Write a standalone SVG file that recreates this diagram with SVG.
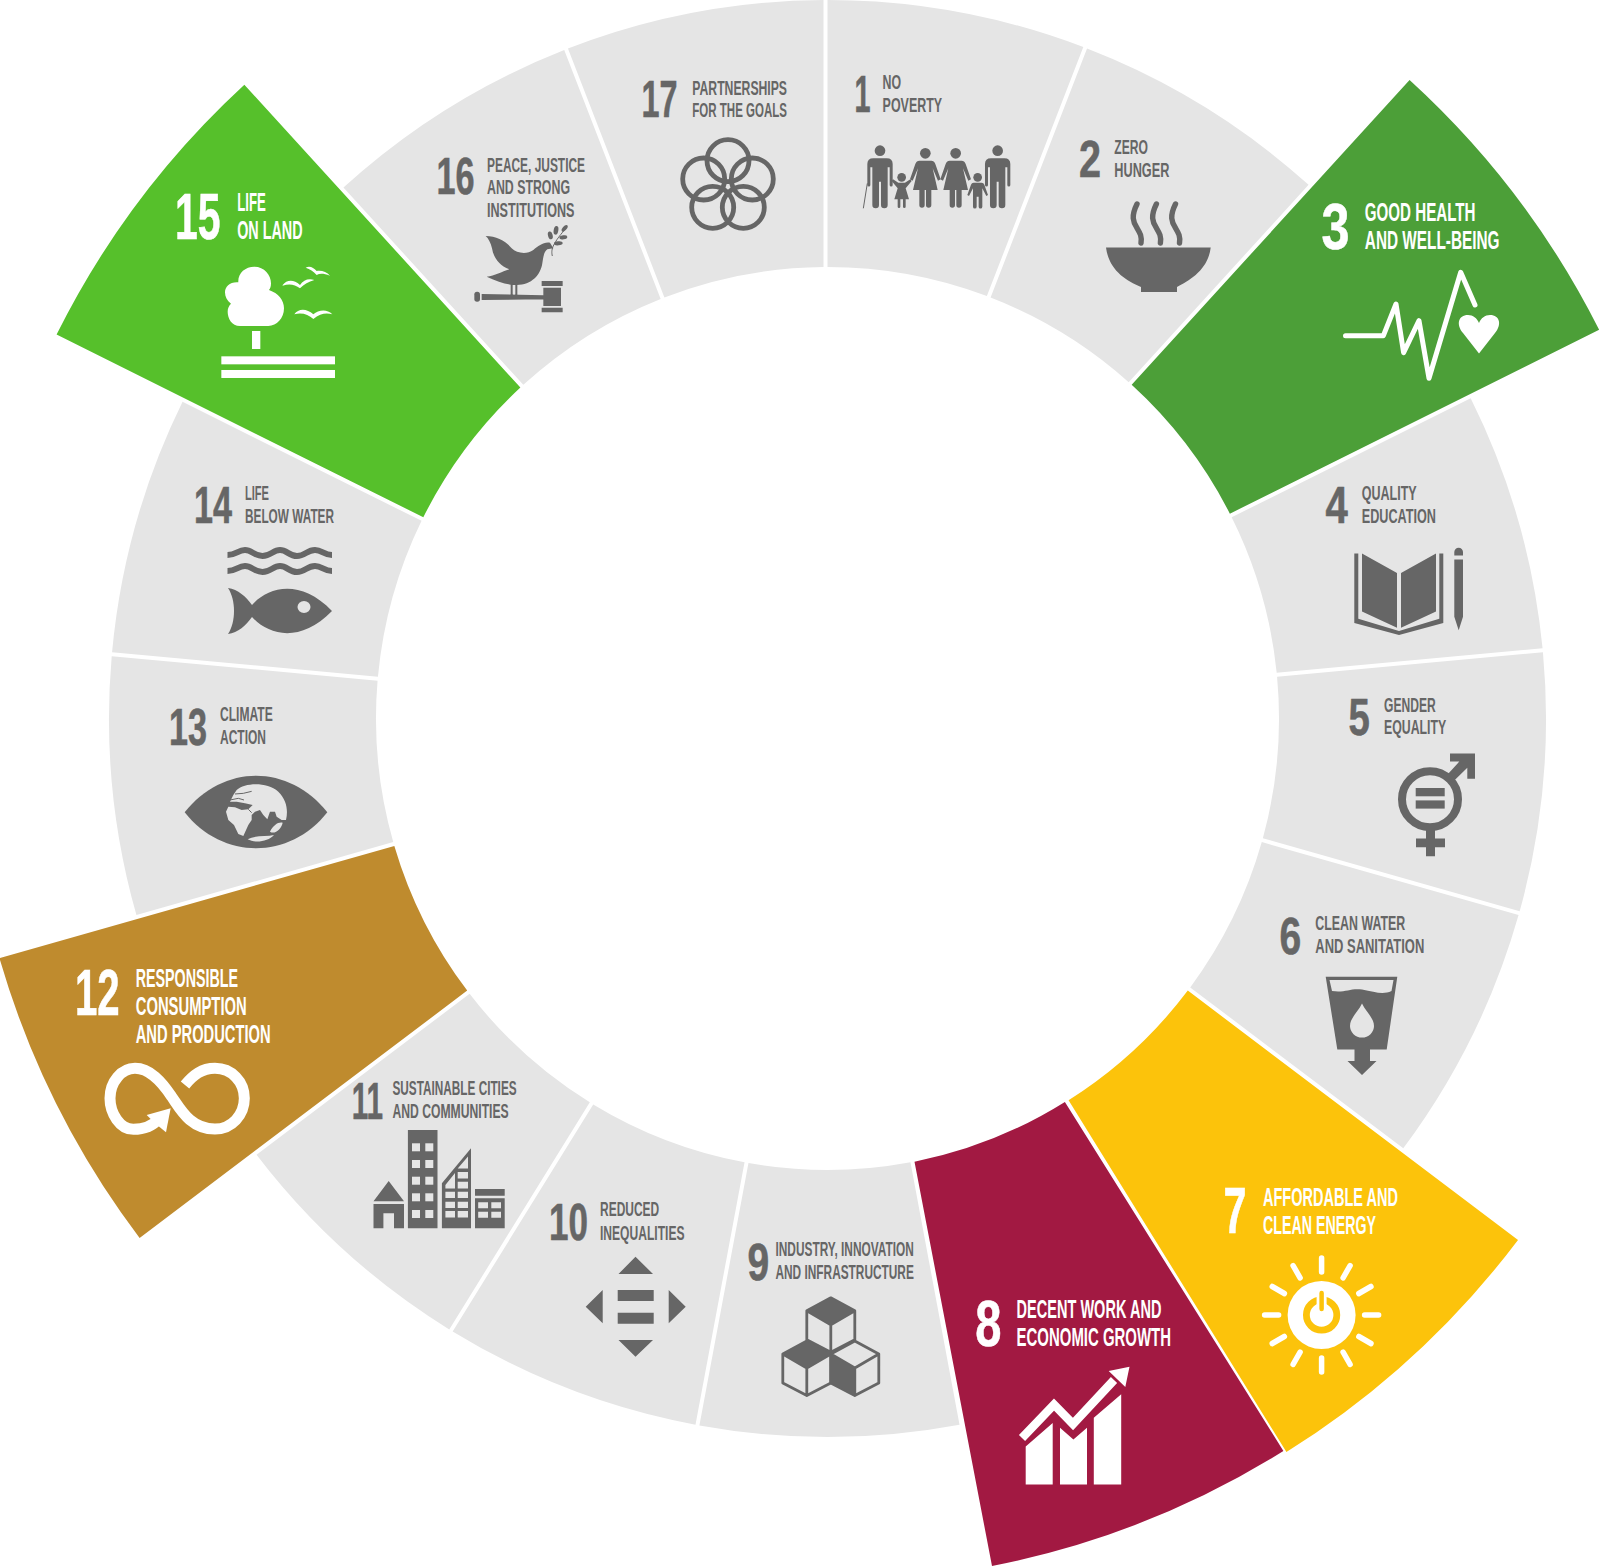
<svg xmlns="http://www.w3.org/2000/svg" width="1600" height="1567" viewBox="0 0 1600 1567">
<style>
text{font-family:"Liberation Sans Narrow","Liberation Sans",Arial,sans-serif;}
.seg{fill:#e5e5e5}
.n,.nb{font-weight:700;fill:#666;stroke:#666;stroke-width:.6px}
.n{font-size:52px}
.nb{font-size:64px;fill:#fff;stroke:#fff}
.l,.lb{font-weight:700;fill:#666}
.l{font-size:20.3px;transform:translateY(-.7px)}
.lb{font-size:25px;fill:#fff}
.i{fill:#666}
.w{fill:#fff}
.bg{fill:#e5e5e5}
</style>
<defs>
<path id="sec" d="M0 -718.5A718.5 718.5 0 0 1 255.82 -671.42L159.37 -422.45A451.5 451.5 0 0 0 0 -451.5Z"/>
<g id="man"><circle cy="32" r="16"/><path d="M-38 72Q-38 55 -20 55H20Q38 55 38 72V135A4.5 4.5 0 0 1 29 135V82H23V195A10 10 0 0 1 3 195V125H-3V195A10 10 0 0 1 -23 195V82H-29V135A4.5 4.5 0 0 1 -38 135Z"/></g>
<g id="woman"><circle cy="40" r="16"/><path d="M-18 62H18Q26 62 30 72L46 118L38 122L22 85L37 150H18V195A8 8 0 0 1 2 195V150H-2V195A8 8 0 0 1 -18 195V150H-37L-22 85L-38 122L-46 118L-30 72Q-26 62 -18 62Z"/></g>
<path id="wave" d="M227.5 555C236 555 238 550 245 550C252 550 254 556 262.5 556C271 556 273 550 280 550C287 550 289 556 297 556C305 556 307 550 315 550C322 550 324 555 332 555" fill="none" stroke="#666" stroke-width="6"/>
<g id="cube" fill="none" stroke="#666" stroke-width="2.8" stroke-linejoin="round"><path d="M0 0L24 13V42L0 54.5L-24 42V13ZM-24 13L0 27L24 13M0 27V54.5"/></g>
<line id="ray" y1="-57" y2="-43" stroke="#fff" stroke-width="5.5" stroke-linecap="round"/>
<path id="steam" d="M1137 204C1131 216 1133 222 1137 228C1140 233 1142 236 1141 243" fill="none" stroke="#666" stroke-width="5.4" stroke-linecap="round"/>
<circle id="ring" r="21" fill="none" stroke="#666" stroke-width="4.8"/>
<rect id="win" width="8" height="8" fill="#e5e5e5"/>
</defs>

<g id="goal-1">
<use href="#sec" class="seg" transform="translate(827.5 718.5)"/>
<text class="n" x="854.5" y="112" textLength="16" lengthAdjust="spacingAndGlyphs">1</text>
<text class="l" x="882.6" y="89.3" textLength="18.5" lengthAdjust="spacingAndGlyphs">NO</text>
<text class="l" x="882.6" y="112.7" textLength="59.5" lengthAdjust="spacingAndGlyphs">POVERTY</text>
<g class="i" transform="translate(860 140) scale(.3333)">
<use href="#man" x="60"/><path d="M22 130L10 205" stroke="#666" stroke-width="3" fill="none"/>
<use href="#man" x="413"/><use href="#woman" x="196"/><use href="#woman" x="287"/>
<g transform="translate(125 0)"><circle cy="112" r="13"/><path d="M-10 128H10L26 118L30 123L12 145L22 178H12V200A4 4 0 0 1 4 200V178H-4V200A4 4 0 0 1 -12 200V178H-22L-12 145L-30 123L-26 118Z"/></g>
<g transform="translate(353 0)"><circle cy="112" r="13"/><path d="M-12 128H12Q18 128 20 134L31 165L26 168L14 145V200A5 5 0 0 1 3 200V170H-3V200A5 5 0 0 1 -14 200V145L-26 168L-31 165L-20 134Q-18 128 -12 128Z"/></g>
</g>
</g>

<g id="goal-2">
<use href="#sec" class="seg" transform="translate(827.5 718.5) rotate(21.176)"/>
<text class="n" x="1079" y="177.3" textLength="22" lengthAdjust="spacingAndGlyphs">2</text>
<text class="l" x="1114.3" y="154.7" textLength="33.7" lengthAdjust="spacingAndGlyphs">ZERO</text>
<text class="l" x="1114.3" y="178" textLength="55" lengthAdjust="spacingAndGlyphs">HUNGER</text>
<use href="#steam"/><use href="#steam" x="19.4"/><use href="#steam" x="38.5"/>
<path class="i" d="M1106 247.5H1210.7C1208 270 1190 280 1177 287V292H1141V287C1125 280 1109 270 1106 247.5Z"/>
</g>

<g id="goal-3">
<path fill="#4c9f38" transform="translate(827.5 718.5) rotate(42.353)" d="M0 -864A864 864 0 0 1 308.38 -807.11L159.37 -422.45A451.5 451.5 0 0 0 0 -451.5Z"/>
<text class="nb" x="1321.4" y="249.3" textLength="28" lengthAdjust="spacingAndGlyphs">3</text>
<text class="lb" x="1364.8" y="221.3" textLength="110.7" lengthAdjust="spacingAndGlyphs">GOOD HEALTH</text>
<text class="lb" x="1364.8" y="249" textLength="134.7" lengthAdjust="spacingAndGlyphs">AND WELL-BEING</text>
<path d="M1345.5 335.7H1383.4L1396 304L1403.6 352.7L1419 320.7L1429 378.3L1460.7 272.3L1475 305" fill="none" stroke="#fff" stroke-width="5" stroke-linecap="round" stroke-linejoin="round"/>
<path class="w" d="M1479 353.5L1463 333C1456 325 1458 315 1468 315C1473 315 1477 318 1479 323C1481 318 1485 315 1490 315C1500 315 1502 325 1495 333Z"/>
</g>

<g id="goal-4">
<use href="#sec" class="seg" transform="translate(827.5 718.5) rotate(63.529)"/>
<text class="n" x="1325.5" y="523" textLength="22.3" lengthAdjust="spacingAndGlyphs">4</text>
<text class="l" x="1361.7" y="501" textLength="55" lengthAdjust="spacingAndGlyphs">QUALITY</text>
<text class="l" x="1361.7" y="523.7" textLength="74.3" lengthAdjust="spacingAndGlyphs">EDUCATION</text>
<g class="i">
<path d="M1362 553.5L1397 573V627.8L1362 611.4ZM1401 573L1436 553.5V611.4L1401 627.8Z"/>
<path d="M1354.3 553.5H1358.3V618.8L1399 631L1439.3 618.8V553.5H1443.3V623L1399 635L1354.3 623Z"/>
<path d="M1454.3 555.5V552a4.35 4.35 0 0 1 8.7 0V555.5ZM1454.3 559.6H1463V616.7L1458.7 630.2L1454.3 616.7Z"/>
</g>
</g>

<g id="goal-5">
<use href="#sec" class="seg" transform="translate(827.5 718.5) rotate(84.706)"/>
<text class="n" x="1348.5" y="735" textLength="21.3" lengthAdjust="spacingAndGlyphs">5</text>
<text class="l" x="1384" y="712.7" textLength="51.7" lengthAdjust="spacingAndGlyphs">GENDER</text>
<text class="l" x="1384" y="735" textLength="62.3" lengthAdjust="spacingAndGlyphs">EQUALITY</text>
<circle cx="1430" cy="799.2" r="28" fill="none" stroke="#666" stroke-width="8"/>
<g class="i">
<rect x="1415.7" y="788" width="29" height="8.3"/><rect x="1415.7" y="800.4" width="29" height="8.2"/>
<path d="M1426 830H1435V838.4H1445V847.3H1435V856.3H1426V847.3H1416V838.4H1426Z"/>
<path d="M1450 753.5H1475V778.8H1467.3V767.8L1451.7 783L1447.3 774.7L1459.3 761.6H1450Z"/>
</g>
</g>

<g id="goal-6">
<use href="#sec" class="seg" transform="translate(827.5 718.5) rotate(105.882)"/>
<text class="n" x="1279.5" y="953.5" textLength="21.7" lengthAdjust="spacingAndGlyphs">6</text>
<text class="l" x="1315.3" y="930.6" textLength="90" lengthAdjust="spacingAndGlyphs">CLEAN WATER</text>
<text class="l" x="1315.3" y="953.5" textLength="109" lengthAdjust="spacingAndGlyphs">AND SANITATION</text>
<path class="i" d="M1325.7 976.7H1397.3L1386.7 1049.4H1370V1061H1376.5L1362 1075L1347.5 1061H1354.5V1049.4H1337.3Z"/>
<path class="bg" d="M1329.5 980H1393.5L1391.5 991C1383 995 1375 992 1362 989.5C1350 988 1345 993 1332 991Z"/>
<path class="bg" d="M1362 1003.5C1358 1012 1350 1018 1350 1026A12 11.5 0 0 0 1374 1026C1374 1018 1366 1012 1362 1003.5Z"/>
</g>

<g id="goal-7">
<path fill="#fcc30b" transform="translate(827.5 718.5) rotate(127.059)" d="M0 -865.3A865.3 865.3 0 0 1 308.85 -808.33L159.37 -422.45A451.5 451.5 0 0 0 0 -451.5Z"/>
<text class="nb" x="1223.6" y="1233.3" textLength="23" lengthAdjust="spacingAndGlyphs">7</text>
<text class="lb" x="1263" y="1206" textLength="135" lengthAdjust="spacingAndGlyphs">AFFORDABLE AND</text>
<text class="lb" x="1263" y="1234" textLength="113" lengthAdjust="spacingAndGlyphs">CLEAN ENERGY</text>
<g transform="translate(1321.6 1315)">
<use href="#ray"/><use href="#ray" transform="rotate(30)"/><use href="#ray" transform="rotate(60)"/><use href="#ray" transform="rotate(90)"/><use href="#ray" transform="rotate(120)"/><use href="#ray" transform="rotate(150)"/><use href="#ray" transform="rotate(180)"/><use href="#ray" transform="rotate(210)"/><use href="#ray" transform="rotate(240)"/><use href="#ray" transform="rotate(270)"/><use href="#ray" transform="rotate(300)"/><use href="#ray" transform="rotate(330)"/>
<circle class="w" r="34"/>
<circle r="15.2" fill="none" stroke="#fcc30b" stroke-width="6.8"/>
<path d="M0 -25V-4" stroke="#fff" stroke-width="10"/>
<path d="M0 -22V-6" stroke="#fcc30b" stroke-width="4.5" stroke-linecap="round"/>
</g>
</g>

<g id="goal-8">
<path fill="#a21942" d="M1283.4 1451A863 863 0 0 1 992 1566L914.5 1161.7A451.5 451.5 0 0 0 1064.9 1101.9Z"/>
<text class="nb" x="975.3" y="1345.7" textLength="26.2" lengthAdjust="spacingAndGlyphs">8</text>
<text class="lb" x="1016.6" y="1318" textLength="144.8" lengthAdjust="spacingAndGlyphs">DECENT WORK AND</text>
<text class="lb" x="1016.6" y="1346" textLength="154.4" lengthAdjust="spacingAndGlyphs">ECONOMIC GROWTH</text>
<path d="M1022 1438L1054 1404.5L1073 1424L1114 1380" fill="none" stroke="#fff" stroke-width="8.5"/>
<path class="w" d="M1129.5 1366.7L1108.7 1371L1125.3 1387ZM1025.7 1484.6V1446.6L1052.7 1423V1484.6ZM1060 1484.6V1427.8L1073.4 1439.4L1087 1427.8V1484.6ZM1093.8 1484.6V1417.7L1121.2 1394.2V1484.6Z"/>
</g>

<g id="goal-9">
<use href="#sec" class="seg" transform="translate(827.5 718.5) rotate(169.412)"/>
<text class="n" x="747.5" y="1280" textLength="21.7" lengthAdjust="spacingAndGlyphs">9</text>
<text class="l" x="775.5" y="1256.7" textLength="138.3" lengthAdjust="spacingAndGlyphs">INDUSTRY, INNOVATION</text>
<text class="l" x="775.5" y="1280" textLength="138.3" lengthAdjust="spacingAndGlyphs">AND INFRASTRUCTURE</text>
<use href="#cube" x="830.8" y="1297.8"/><use href="#cube" x="806.8" y="1341"/><use href="#cube" x="854.8" y="1341"/>
<g class="i"><path d="M830.8 1297.8L854.8 1310.8L830.8 1324.8L806.8 1310.8ZM806.8 1341L830.8 1354L806.8 1368L782.8 1354ZM830.8 1354L854.8 1368V1395.5L830.8 1383Z"/></g>
</g>

<g id="goal-10">
<use href="#sec" class="seg" transform="translate(827.5 718.5) rotate(190.588)"/>
<text class="n" x="549" y="1240.3" textLength="39" lengthAdjust="spacingAndGlyphs">10</text>
<text class="l" x="600" y="1217" textLength="59.2" lengthAdjust="spacingAndGlyphs">REDUCED</text>
<text class="l" x="600" y="1240.3" textLength="84.5" lengthAdjust="spacingAndGlyphs">INEQUALITIES</text>
<path class="i" d="M635.5 1256.7L653 1274H618.5ZM618.5 1340H653L635.5 1356.7ZM585.7 1306.7L602.7 1290V1323.3ZM668.7 1290L685.7 1306.7L668.7 1323.3ZM617.7 1290H653.7V1301H617.7ZM617.7 1312.7H653.7V1323.7H617.7Z"/>
</g>

<g id="goal-11">
<use href="#sec" class="seg" transform="translate(827.5 718.5) rotate(211.765)"/>
<text class="n" x="351.7" y="1118.7" textLength="31.4" lengthAdjust="spacingAndGlyphs">11</text>
<text class="l" x="392.5" y="1095.3" textLength="124.1" lengthAdjust="spacingAndGlyphs">SUSTAINABLE CITIES</text>
<text class="l" x="392.5" y="1118.7" textLength="116.2" lengthAdjust="spacingAndGlyphs">AND COMMUNITIES</text>
<path class="i" d="M388.7 1181L404 1201.3H373.5ZM373.5 1204H404V1228.3H394V1213.3H383.4V1228.3H373.5ZM407.9 1130H437.5V1228.3H407.9ZM441.9 1228.3V1183.3L471 1148.3V1228.3ZM475 1189H504.7V1195.7H475ZM475 1198.3H504.7V1228.3H475Z"/>
<use href="#win" x="412" y="1143.3"/><use href="#win" x="425.3" y="1143.3"/><use href="#win" x="412" y="1160"/><use href="#win" x="425.3" y="1160"/><use href="#win" x="412" y="1176.7"/><use href="#win" x="425.3" y="1176.7"/><use href="#win" x="412" y="1193.3"/><use href="#win" x="425.3" y="1193.3"/><use href="#win" x="412" y="1210"/><use href="#win" x="425.3" y="1210"/>
<path class="bg" d="M445.4 1191.7H455V1198H445.4ZM457.7 1191.7H468V1198H457.7ZM445.4 1201.7H455V1208H445.4ZM457.7 1201.7H468V1208H457.7ZM445.4 1211H455V1217.5H445.4ZM457.7 1211H468V1217.5H457.7ZM457.7 1172H468V1178.5H457.7ZM457.7 1181.7H468V1188.5H457.7ZM445.4 1185L455 1173V1188.5H445.4ZM457.7 1168.5L468 1156.5V1168.5ZM478.2 1202.3H488V1208.3H478.2ZM491.3 1202.3H501V1208.3H491.3ZM478.2 1211.7H488V1217.7H478.2ZM491.3 1211.7H501V1217.7H491.3Z"/>
</g>

<g id="goal-12">
<path fill="#bf8b2e" transform="translate(827.5 718.5) rotate(232.941)" d="M0 -862A862 862 0 0 1 307.66 -805.24L159.37 -422.45A451.5 451.5 0 0 0 0 -451.5Z"/>
<text class="nb" x="75" y="1014.8" textLength="44.7" lengthAdjust="spacingAndGlyphs">12</text>
<text class="lb" x="135.7" y="987.4" textLength="102.3" lengthAdjust="spacingAndGlyphs">RESPONSIBLE</text>
<text class="lb" x="135.7" y="1015" textLength="111" lengthAdjust="spacingAndGlyphs">CONSUMPTION</text>
<text class="lb" x="135.7" y="1042.6" textLength="135" lengthAdjust="spacingAndGlyphs">AND PRODUCTION</text>
<g transform="translate(100 1055) scale(.3333)">
<path d="M178 190C150 222 115 223 100 223C60 223 30 175 30 130C30 80 65 40 105 40C150 40 185 80 215 125C240 160 270 222 345 222C395 222 433 180 433 130C433 80 395 40 345 40C305 40 280 60 255 90" fill="none" stroke="#fff" stroke-width="33"/>
<path class="w" d="M212 160L140 180L165 205L198 232Z"/>
</g>
</g>

<g id="goal-13">
<use href="#sec" class="seg" transform="translate(827.5 718.5) rotate(254.118)"/>
<text class="n" x="169" y="744.6" textLength="38" lengthAdjust="spacingAndGlyphs">13</text>
<text class="l" x="220" y="722" textLength="52.7" lengthAdjust="spacingAndGlyphs">CLIMATE</text>
<text class="l" x="220" y="745" textLength="46" lengthAdjust="spacingAndGlyphs">ACTION</text>
<g transform="translate(180 770) scale(.3333)">
<path class="i" d="M14 127C70 55 150 17 228 17C306 17 386 55 442 127C386 199 306 235 228 235C150 235 70 199 14 127Z"/>
<path class="bg" d="M170 60C195 38 260 35 295 65C320 90 325 120 318 150L305 150L290 140L285 125L270 125L262 148L250 135L240 120L225 125L215 135L215 150L205 165L190 198L175 192L162 165L145 150L138 125L145 110L165 112L185 120L205 118L218 105L195 100L170 95L150 95L160 75Z"/>
<path d="M165 72L190 70L215 64M150 90L175 85L192 90M205 118L215 128" fill="none" stroke="#666" stroke-width="3"/>
<path class="bg" d="M270 185C280 165 295 155 308 158C305 175 285 195 270 185ZM203 208C225 195 260 200 282 195C265 215 225 220 203 208Z"/>
</g>
</g>

<g id="goal-14">
<use href="#sec" class="seg" transform="translate(827.5 718.5) rotate(275.294)"/>
<text class="n" x="194" y="523" textLength="38" lengthAdjust="spacingAndGlyphs">14</text>
<text class="l" x="245" y="500.8" textLength="24" lengthAdjust="spacingAndGlyphs">LIFE</text>
<text class="l" x="245" y="523.7" textLength="89" lengthAdjust="spacingAndGlyphs">BELOW WATER</text>
<use href="#wave"/><use href="#wave" y="16"/>
<path class="i" d="M228 588C238 589 246 597 252 605C268 587 300 578 332 611C300 644 268 635 252 617C246 625 238 633 228 634C236 622 236 600 228 588Z"/>
<ellipse cx="304" cy="607" rx="6.5" ry="6" class="bg"/>
</g>

<g id="goal-15">
<path fill="#56c02b" transform="translate(827.5 718.5) rotate(296.471)" d="M0 -861.2A861.2 861.2 0 0 1 307.37 -804.5L159.37 -422.45A451.5 451.5 0 0 0 0 -451.5Z"/>
<text class="nb" x="175" y="239.3" textLength="45.5" lengthAdjust="spacingAndGlyphs">15</text>
<text class="lb" x="237.2" y="211.3" textLength="28.6" lengthAdjust="spacingAndGlyphs">LIFE</text>
<text class="lb" x="237.2" y="238.7" textLength="65.4" lengthAdjust="spacingAndGlyphs">ON LAND</text>
<g class="w" transform="translate(215 255) scale(.3333)">
<path d="M75 213C50 213 38 190 38 170C38 160 42 152 48 146C36 138 30 125 30 112C30 95 45 80 70 82C68 55 90 35 118 35C148 35 168 60 168 85C168 95 166 100 162 105C190 115 207 135 207 160C207 190 185 213 160 213Z"/>
<rect x="111" y="228" width="25" height="54"/>
<rect x="19" y="304" width="341" height="24"/><rect x="19" y="345" width="341" height="24"/>
<path d="M203 90C215 75 235 72 255 90C265 75 280 70 298 75C280 80 268 88 255 100C240 88 222 85 203 92ZM272 38C285 32 295 38 305 48C318 45 335 50 345 62C325 55 315 55 305 60C295 48 285 42 272 38ZM238 178C250 160 275 160 295 178C310 165 335 160 352 178C335 172 315 175 295 192C280 178 260 172 238 178Z"/>
</g>
</g>

<g id="goal-16">
<use href="#sec" class="seg" transform="translate(827.5 718.5) rotate(317.647)"/>
<text class="n" x="436.5" y="194.3" textLength="38" lengthAdjust="spacingAndGlyphs">16</text>
<text class="l" x="487" y="172.3" textLength="98" lengthAdjust="spacingAndGlyphs">PEACE, JUSTICE</text>
<text class="l" x="487" y="195" textLength="83" lengthAdjust="spacingAndGlyphs">AND STRONG</text>
<text class="l" x="487" y="217.7" textLength="87.5" lengthAdjust="spacingAndGlyphs">INSTITUTIONS</text>
<g class="i" transform="translate(470 220) scale(.3333)">
<path d="M47 48C80 48 110 65 125 85C140 100 170 105 190 90C205 78 220 65 240 68L250 85L232 88C222 95 220 110 217 130C212 165 185 195 140 195C110 195 85 185 50 170C75 168 95 155 118 148C85 135 70 110 66 85C62 68 55 55 47 48Z"/>
<path d="M122 192H128V226H122ZM136 192H142V226H136ZM35 222L220 226V238L35 240ZM220 203H273V258H220ZM215 183H278V198H215ZM215 263H278V277H215Z"/>
<rect x="13" y="215" width="17" height="30" rx="8"/>
<path d="M247 108C243 90 245 75 285 28" fill="none" stroke="#666" stroke-width="3"/>
<ellipse cx="241" cy="46" rx="7" ry="12" transform="rotate(-15 241 46)"/><ellipse cx="258" cy="31" rx="7" ry="13" transform="rotate(10 258 31)"/><ellipse cx="284" cy="25" rx="6" ry="12" transform="rotate(40 284 25)"/><ellipse cx="280" cy="52" rx="6" ry="12" transform="rotate(80 280 52)"/><ellipse cx="265" cy="70" rx="6" ry="13" transform="rotate(85 265 70)"/>
</g>
</g>

<g id="goal-17">
<use href="#sec" class="seg" transform="translate(827.5 718.5) rotate(338.824)"/>
<text class="n" x="641.5" y="117.3" textLength="36" lengthAdjust="spacingAndGlyphs">17</text>
<text class="l" x="692.3" y="95.3" textLength="94.7" lengthAdjust="spacingAndGlyphs">PARTNERSHIPS</text>
<text class="l" x="692.3" y="118" textLength="94.7" lengthAdjust="spacingAndGlyphs">FOR THE GOALS</text>
<use href="#ring" x="728" y="160.7"/><use href="#ring" x="703.7" y="179"/><use href="#ring" x="752.3" y="179"/><use href="#ring" x="712.7" y="207.3"/><use href="#ring" x="743.3" y="207.3"/>
</g>
</svg>
